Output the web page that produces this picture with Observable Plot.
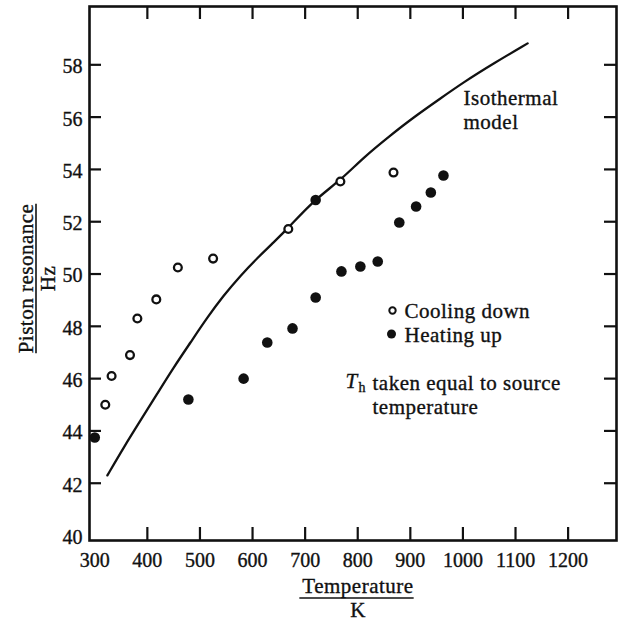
<!DOCTYPE html>
<html><head><meta charset="utf-8">
<script src="https://cdn.jsdelivr.net/npm/d3@7"></script>
<script src="https://cdn.jsdelivr.net/npm/@observablehq/plot@0.6"></script>
<style>
body{margin:0;background:#fff;}
#chart svg text {stroke: #111; stroke-width: 0.35px;}
#chart svg g[aria-label="text"] text {letter-spacing: 0.5px;}
</style>
</head><body><div id="chart"></div>
<script>
// Cooling down (open circles)
const coolingT  = [320, 332, 367, 381, 417, 458, 525, 668, 767, 868];
const coolingHz = [45.0, 46.1, 46.9, 48.3, 49.03, 50.25, 50.59, 51.72, 53.54, 53.88];
// Heating up (filled circles)
const heatingT  = [300, 478, 583, 628, 676, 720, 720, 769, 805, 838, 879, 911, 939, 963];
const heatingHz = [43.75, 45.2, 46.0, 47.38, 47.92, 49.1, 52.83, 50.1, 50.29, 50.48, 51.97, 52.58, 53.12, 53.77];
// Isothermal model curve
const modelT  = [324, 355, 387, 419, 450, 482, 514, 545, 577, 610, 640, 667, 716, 767, 811, 862, 906, 957, 1001, 1058, 1123];
const modelHz = [42.3, 43.37, 44.4, 45.43, 46.43, 47.38, 48.34, 49.18, 49.94, 50.63, 51.21, 51.74, 52.81, 53.58, 54.46, 55.3, 55.99, 56.71, 57.33, 58.05, 58.82];
// Ticks
const xTicks = [300, 400, 500, 600, 700, 800, 900, 1000, 1100, 1200];
const yTicks = [40, 42, 44, 46, 48, 50, 52, 54, 56, 58];
// Texts
const legendLabels = ["Cooling down", "Heating up"];
const modelLabel = "Isothermal\nmodel";
const noteSymbol = "T";
const noteSub = "h";
const noteText = "taken equal to source\ntemperature";
const xLabel = "Temperature", xUnit = "K";
const yLabel = "Piston resonance", yUnit = "Hz";

const cooling = coolingT.map((t, i) => ({t, hz: coolingHz[i]}));
const heating = heatingT.map((t, i) => ({t, hz: heatingHz[i]}));
const model = modelT.map((t, i) => ({t, hz: modelHz[i]}));

const W = 619, H = 624, mL = 89, mR = 3, mT = 6, mB = 84;
const pw = W - mL - mR, ph = H - mT - mB;
const ink = "#111";
const serif = "'Liberation Serif', 'Times New Roman', serif";
const tl = 13;
const fs = 21;

const chart = Plot.plot({
  width: W, height: H,
  marginLeft: mL, marginRight: mR, marginTop: mT, marginBottom: mB,
  x: {type: "linear", domain: [290, 1292]},
  y: {type: "linear", domain: [39.81, 60.23]},
  style: {fontFamily: serif, fontSize: "20px", color: ink, background: "white"},
  marks: [
    Plot.frame({stroke: ink, strokeWidth: 2.6}),
    // inward ticks
    Plot.tickX(xTicks.slice(1), {x: d => d, insetTop: ph - tl, stroke: ink, strokeWidth: 2.2}),
    Plot.tickX(xTicks.slice(1), {x: d => d, insetBottom: ph - tl, stroke: ink, strokeWidth: 2.2}),
    Plot.tickY(yTicks.slice(1), {y: d => d, insetRight: pw - 12, stroke: ink, strokeWidth: 2.2}),
    Plot.tickY(yTicks.slice(1), {y: d => d, insetLeft: pw - 12, stroke: ink, strokeWidth: 2.2}),
    Plot.axisX(xTicks, {anchor: "bottom", tickSize: 0, tickPadding: 12, fontSize: 20, label: null, tickFormat: d3.format("d")}),
    Plot.axisY(yTicks, {anchor: "left", tickSize: 0, tickPadding: 7, fontSize: 20, dy: 2, label: null, tickFormat: d3.format("d")}),
    // model curve
    Plot.line(model, {x: "t", y: "hz", curve: "basis", stroke: ink, strokeWidth: 2.3}),
    // data
    Plot.dot(cooling, {x: "t", y: "hz", r: 3.9, stroke: ink, strokeWidth: 2.3, fill: "white"}),
    Plot.dot(heating, {x: "t", y: "hz", r: 5.3, fill: ink, stroke: null}),
    // annotations
    Plot.text([modelLabel], {frameAnchor: "top-left", textAnchor: "start", lineAnchor: "top", dx: 374, dy: 82, fontSize: fs, lineHeight: 23.5 / fs, fill: ink}),
    Plot.dot([legendLabels[0]], {x: null, y: null, frameAnchor: "top-left", dx: 303, dy: 304, r: 3.2, stroke: ink, strokeWidth: 2, fill: "white"}),
    Plot.dot([legendLabels[1]], {x: null, y: null, frameAnchor: "top-left", dx: 302, dy: 327.5, r: 4.5, fill: ink, stroke: null}),
    Plot.text([legendLabels.join("\n")], {frameAnchor: "top-left", textAnchor: "start", lineAnchor: "top", dx: 315, dy: 295, fontSize: fs, lineHeight: 23.5 / fs, fill: ink}),
    Plot.text([noteSymbol], {frameAnchor: "top-left", textAnchor: "start", lineAnchor: "top", dx: 256, dy: 367, fontSize: fs, fontStyle: "italic", fill: ink}),
    Plot.text([noteSub], {frameAnchor: "top-left", textAnchor: "start", lineAnchor: "top", dx: 269, dy: 376, fontSize: 14, fill: ink}),
    Plot.text([noteText], {frameAnchor: "top-left", textAnchor: "start", lineAnchor: "top", dx: 283, dy: 367, fontSize: fs, lineHeight: 23.5 / fs, fill: ink}),
    // axis titles
    Plot.text([xLabel], {frameAnchor: "bottom", textAnchor: "middle", lineAnchor: "top", dx: 5, dy: 38, fontSize: fs, fill: ink}),
    Plot.text([xUnit], {frameAnchor: "bottom", textAnchor: "middle", lineAnchor: "top", dx: 5, dy: 62, fontSize: fs, fill: ink}),
    Plot.text([yLabel], {frameAnchor: "left", textAnchor: "middle", lineAnchor: "middle", rotate: -90, dx: -63, dy: 5, fontSize: fs, fill: ink}),
    Plot.text([yUnit], {frameAnchor: "left", textAnchor: "middle", lineAnchor: "middle", rotate: -90, dx: -41, dy: 5, fontSize: fs, fill: ink})
  ]
});
document.getElementById("chart").appendChild(chart);

// fraction bars under the axis titles, sized from the rendered texts
const svg = d3.select(chart);
const box = chart.getBoundingClientRect();
const findText = s => Array.from(chart.querySelectorAll("text")).find(t => t.textContent === s);
const xEl = findText(xLabel), yEl = findText(yLabel);
if (xEl) {
  const r = xEl.getBoundingClientRect();
  svg.append("line")
    .attr("x1", r.left - box.left - 3).attr("x2", r.right - box.left)
    .attr("y1", 598).attr("y2", 598)
    .attr("stroke", ink).attr("stroke-width", 1.6);
}
if (yEl) {
  const r = yEl.getBoundingClientRect();
  svg.append("line")
    .attr("x1", 36).attr("x2", 36)
    .attr("y1", r.top - box.top).attr("y2", r.bottom - box.top)
    .attr("stroke", ink).attr("stroke-width", 1.6);
}
</script>
</body></html>
